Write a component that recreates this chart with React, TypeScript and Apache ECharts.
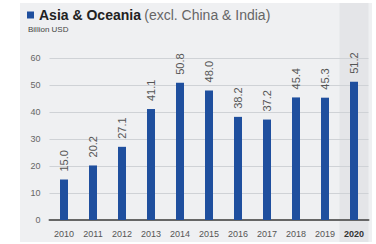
import React, { useEffect, useRef } from "react";
import * as echarts from "echarts";

const years = ["2010", "2011", "2012", "2013", "2014", "2015", "2016", "2017", "2018", "2019", "2020"];
const values = [15.0, 20.2, 27.1, 41.1, 50.8, 48.0, 38.2, 37.2, 45.4, 45.3, 51.2];
const highlightYear = "2020";
const seriesName = "Asia & Oceania";
const titleNote = "(excl. China & India)";
const unitLabel = "Billion USD";

const FONT = "'Liberation Sans', Arial, sans-serif";
const BLUE = "#1f4f9e";

export default function App() {
  const ref = useRef<HTMLDivElement>(null);
  useEffect(() => {
    if (!ref.current) return;
    const chart = echarts.init(ref.current, null, { renderer: "svg" });
    chart.setOption({
      animation: false,
      backgroundColor: "#ffffff",
      textStyle: { fontFamily: FONT },
      legend: {
        left: 27,
        top: 8,
        padding: 0,
        itemWidth: 7,
        itemHeight: 7,
        icon: "rect",
        itemGap: 4,
        data: [seriesName],
        formatter: (n: string) => `{a|${n}} {b|${titleNote}}`,
        textStyle: {
          rich: {
            a: { fontSize: 14, fontWeight: "bold", color: "#222", fontFamily: FONT },
            b: { fontSize: 14, color: "#666", fontFamily: FONT },
          },
        },
      },
      title: {
        text: unitLabel,
        left: 28,
        top: 25,
        padding: 0,
        textStyle: { fontSize: 8, fontWeight: "normal", color: "#444", fontFamily: FONT },
      },
      grid: { left: 49.5, right: 7.5, top: 58, bottom: 24 },
      xAxis: {
        type: "category",
        data: years,
        axisTick: { show: false },
        axisLine: { lineStyle: { color: "#666", width: 2 } },
        axisLabel: {
          interval: 0,
          fontSize: 9,
          color: "#555",
          margin: 9,
          formatter: (v: string) => (v === highlightYear ? `{h|${v}}` : v),
          rich: { h: { fontSize: 9, fontWeight: "bold", color: "#333", fontFamily: FONT } },
        },
      },
      yAxis: {
        type: "value",
        min: 0,
        max: 60,
        interval: 10,
        axisLine: { show: false },
        axisTick: { show: false },
        axisLabel: { fontSize: 9, color: "#666", margin: 9 },
        splitLine: { lineStyle: { color: "#cfd2d6", width: 1 } },
      },
      series: [
        {
          name: seriesName,
          type: "bar",
          data: values,
          barWidth: 8,
          itemStyle: { color: BLUE },
          z: 5,
          label: {
            show: true,
            position: "top",
            rotate: 90,
            align: "left",
            verticalAlign: "middle",
            distance: 8,
            fontSize: 11,
            color: "#555",
            formatter: (p: any) => p.value.toFixed(1),
          },
        },
      ],
    });
    const idx = years.indexOf(highlightYear);
    const c = chart.convertToPixel({ xAxisIndex: 0 }, idx) as number;
    const c0 = chart.convertToPixel({ xAxisIndex: 0 }, 0) as number;
    const c1 = chart.convertToPixel({ xAxisIndex: 0 }, 1) as number;
    const band = c1 - c0;
    chart.setOption({
      graphic: [
        {
          type: "rect",
          z: -10,
          silent: true,
          shape: { x: 20, y: 3, width: 352, height: 239 },
          style: { fill: "#eff0f2" },
        },
        {
          type: "rect",
          z: -9,
          silent: true,
          shape: { x: c - band / 2, y: 3, width: band, height: 239 },
          style: { fill: "#e4e5e8" },
        },
      ],
    });
    return () => chart.dispose();
  }, []);
  return (
    <div
      ref={ref}
      style={{ position: "fixed", left: 0, top: 0, width: 376, height: 244 }}
    />
  );
}
